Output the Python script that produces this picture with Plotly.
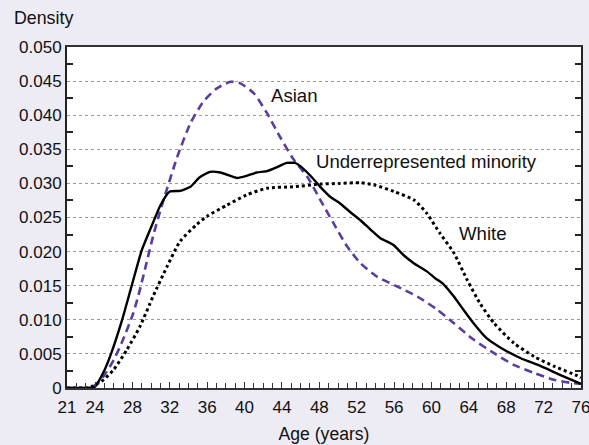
import plotly.graph_objects as go

# ---- data ----
urm_age = [21, 22, 23, 24, 24.9, 25.6, 26.9, 27.9, 29.0, 30.1, 31.0, 32.0, 33.1, 34.2, 35.2, 36.3, 37.4, 38.5, 39.2,
           40.2, 41.3, 42.4, 43.5, 44.5, 45.4, 46.0, 47.0, 48.1, 49.2, 50.2, 51.3, 52.4, 53.5, 54.5, 55.9, 57.0,
           58.1, 59.5, 60.4, 61.3, 62.4, 63.4, 64.5, 65.9, 67.4, 69.5, 71.7, 73.8, 76]
urm_den = [0, 0, 0, 0.0002, 0.0023, 0.0046, 0.0100, 0.0149, 0.0202, 0.0239, 0.0268, 0.0288, 0.0289, 0.0295, 0.0309,
           0.0317, 0.0316, 0.0311, 0.0308, 0.0311, 0.0316, 0.0318, 0.0324, 0.0330, 0.0330, 0.0325, 0.0312, 0.0295,
           0.0280, 0.0271, 0.0258, 0.0246, 0.0232, 0.0220, 0.0210, 0.0195, 0.0183, 0.0171, 0.0161, 0.0152, 0.0134,
           0.0115, 0.0095, 0.0073, 0.0059, 0.0044, 0.0032, 0.0019, 0.0006]

asian_age = [21, 22, 23, 23.8, 24.9, 26.0, 27.0, 28.1, 28.8, 29.5, 30.2, 31.0, 31.7, 32.8, 34.2, 35.6, 37.0, 38.5,
             39.5, 41.0, 42.4, 43.8, 45.2, 46.7, 48.1, 49.5, 51.0, 52.4, 54.2, 56.3, 58.5, 60.6, 62.4, 64.5, 66.7,
             68.8, 71.0, 73.1, 75.2, 76]
asian_den = [0, 0, 0, 0.0002, 0.0017, 0.0041, 0.0071, 0.0110, 0.0144, 0.0183, 0.0222, 0.0261, 0.0292, 0.0339, 0.0388,
             0.0420, 0.0439, 0.0449, 0.0447, 0.0432, 0.0403, 0.0368, 0.0336, 0.0310, 0.0276, 0.0242, 0.0207, 0.0183,
             0.0163, 0.0149, 0.0134, 0.0115, 0.0095, 0.0071, 0.0051, 0.0034, 0.0022, 0.0012, 0.0007, 0.0006]

white_age = [21, 22, 23, 23.8, 24.9, 26.0, 27.4, 28.8, 30.2, 31.7, 33.1, 34.9, 36.0, 38.1, 40.2, 42.4, 45.2, 48.1,
             50.2, 52.4, 53.8, 56.0, 58.1, 59.5, 60.9, 62.4, 63.8, 65.2, 66.7, 68.8, 71.0, 73.1, 75.6, 76]
white_den = [0, 0, 0, 0.0003, 0.0012, 0.0027, 0.0056, 0.0090, 0.0134, 0.0178, 0.0215, 0.0240, 0.0252, 0.0268, 0.0283,
             0.0293, 0.0295, 0.0299, 0.0300, 0.0301, 0.0298, 0.0288, 0.0276, 0.0256, 0.0227, 0.0198, 0.0159, 0.0124,
             0.0095, 0.0066, 0.0046, 0.0032, 0.0018, 0.0015]

x_ticks = [21, 24, 28, 32, 36, 40, 44, 48, 52, 56, 60, 64, 68, 72, 76]
y_ticks = [0, 0.005, 0.010, 0.015, 0.020, 0.025, 0.030, 0.035, 0.040, 0.045, 0.050]
y_ticktext = ["0", "0.005", "0.010", "0.015", "0.020", "0.025", "0.030", "0.035", "0.040", "0.045", "0.050"]

labels = ["Asian", "Underrepresented minority", "White"]
label_x = [42.6, 47.4, 62.7]
label_y = [0.0429, 0.0332, 0.0226]

FONT = "Liberation Sans, Arial, Helvetica, sans-serif"
BG = "#edebf4"

fig = go.Figure()
fig.add_trace(go.Scatter(x=white_age, y=white_den, mode="lines", name="White",
                         line=dict(color="black", width=3, dash="3px,3px", shape="spline", smoothing=0.6)))
fig.add_trace(go.Scatter(x=asian_age, y=asian_den, mode="lines", name="Asian",
                         line=dict(color="#5a3d9e", width=2.6, dash="8px,5px", shape="spline", smoothing=0.6)))
fig.add_trace(go.Scatter(x=urm_age, y=urm_den, mode="lines", name="Underrepresented minority",
                         line=dict(color="black", width=2.4, shape="spline", smoothing=0.5)))

for t, xx, yy in zip(labels, label_x, label_y):
    fig.add_annotation(x=xx, y=yy, text=t, showarrow=False, xanchor="left", yanchor="middle",
                       font=dict(size=18.6, color="#111", family=FONT))

fig.add_annotation(xref="paper", yref="paper", x=-0.107, y=1.085, text="Density", showarrow=False,
                   xanchor="left", yanchor="middle", font=dict(size=17.8, color="#111", family=FONT))

fig.update_layout(
    width=589, height=445,
    margin=dict(l=67, r=8, t=47, b=57, autoexpand=False),
    paper_bgcolor=BG, plot_bgcolor="white",
    showlegend=False,
    font=dict(family=FONT, size=17, color="#111"),
    xaxis=dict(range=[21, 76], tickmode="array", tickvals=x_ticks, ticks="inside", ticklen=6,
               tickwidth=1, tickcolor="#333", showgrid=False, zeroline=False, automargin=False,
               ticklabeloverflow="allow",
               showline=True, linecolor="#333", linewidth=2, mirror=True, ticklabelstandoff=3,
               minor=dict(tickvals=list(range(21, 77)), ticks="inside", ticklen=5, tickcolor="#333",
                          tickwidth=1, showgrid=False),
               title=dict(text="Age (years)", font=dict(size=17.6), standoff=11),
               tickfont=dict(size=17)),
    yaxis=dict(range=[0, 0.05], tickmode="array", tickvals=y_ticks, ticktext=y_ticktext,
               ticks="", showgrid=True, gridcolor="#9a9a9a", griddash="3px,3px", gridwidth=1,
               zeroline=False, showline=True, linecolor="#222", linewidth=2, mirror="ticks",
               automargin=False, ticklabeloverflow="allow",
               minor=dict(tickvals=[0.0025 + 0.005 * i for i in range(10)], ticks="inside", ticklen=6,
                          tickcolor="#222", tickwidth=1.5, showgrid=False),
               tickfont=dict(size=17)),
)

fig.write_html("out.html", config={"displayModeBar": False},
               post_script="document.body.style.margin='0';document.body.style.background='%s';" % BG)
